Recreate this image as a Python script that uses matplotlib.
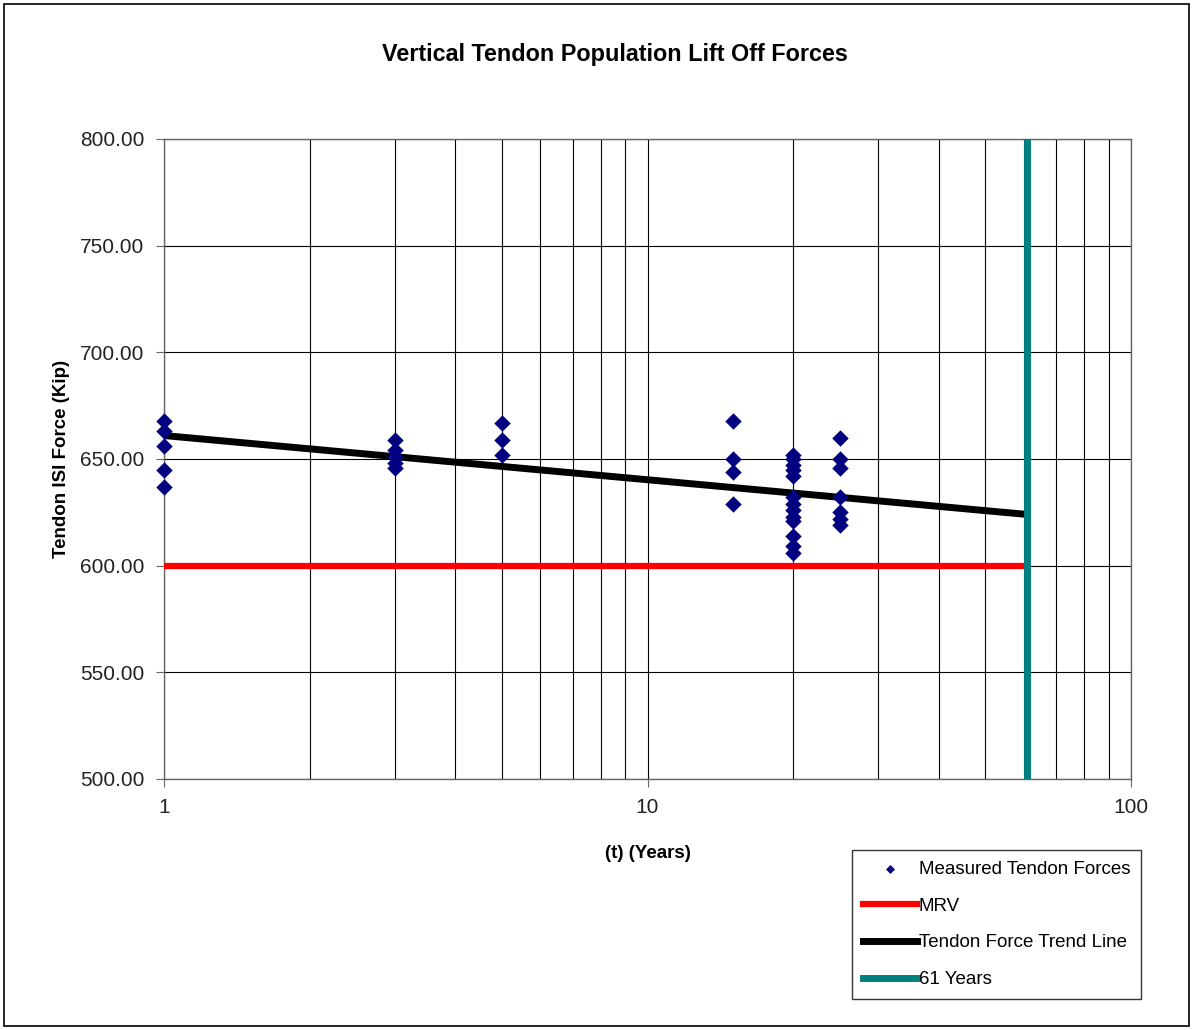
import matplotlib
matplotlib.use("Agg")
import matplotlib.pyplot as plt
from matplotlib.ticker import FixedLocator, NullFormatter, FixedFormatter
from matplotlib.patches import Rectangle

plt.rcParams['font.family'] = ['Liberation Sans', 'DejaVu Sans']

# Measured tendon forces (years, kip)
years_1 = [1, 1, 1, 1, 1]
force_1 = [668, 663, 656, 645, 637]
years_3 = [3, 3, 3, 3, 3]
force_3 = [659, 654, 651, 648, 646]
years_5 = [5, 5, 5]
force_5 = [667, 659, 652]
years_15 = [15, 15, 15, 15]
force_15 = [668, 650, 644, 629]
years_20 = [20] * 13
force_20 = [652, 650, 647, 645, 642, 632, 629, 626, 623, 621, 614, 609, 606]
years_25 = [25] * 7
force_25 = [660, 650, 646, 632, 625, 622, 619]

meas_t = years_1 + years_3 + years_5 + years_15 + years_20 + years_25
meas_f = force_1 + force_3 + force_5 + force_15 + force_20 + force_25

mrv_t = [1, 61]
mrv_f = [600, 600]
trend_t = [1, 61]
trend_f = [661, 624]
life_t = [61, 61]
life_f = [500, 800]

W, H = 1193, 1030
fig = plt.figure(figsize=(W / 100, H / 100), dpi=100)
fig.patches.append(Rectangle((4 / W, 4 / H), (W - 8) / W, (H - 8) / H,
                             transform=fig.transFigure, fill=False,
                             edgecolor='black', linewidth=1.2))

ax = fig.add_axes([164 / W, 1 - 779 / H, (1131 - 164) / W, (779 - 139) / H])
ax.set_xscale('log')
ax.set_xlim(1, 100)
ax.set_ylim(500, 800)

minor = [m * d for d in (1, 10) for m in range(2, 10)]
ax.xaxis.set_major_locator(FixedLocator([1, 10, 100]))
ax.xaxis.set_major_formatter(FixedFormatter(['1', '10', '100']))
ax.xaxis.set_minor_locator(FixedLocator(minor))
ax.xaxis.set_minor_formatter(NullFormatter())
ax.set_yticks([500, 550, 600, 650, 700, 750, 800])
ax.set_yticklabels([f"{v:.2f}" for v in [500, 550, 600, 650, 700, 750, 800]])
ax.grid(True, which='both', axis='x', color='black', linewidth=0.8)
ax.grid(True, which='major', axis='y', color='black', linewidth=0.8)
ax.tick_params(axis='both', which='major', labelsize=15, length=6,
               color='#666666', labelcolor='#222222')
ax.tick_params(axis='y', which='major', pad=8)
ax.tick_params(axis='x', which='minor', length=0)
ax.tick_params(axis='x', which='major', pad=8)
for s in ax.spines.values():
    s.set_color('#666666')
    s.set_linewidth(1)

ax.plot(mrv_t, mrv_f, color='#ff0000', linewidth=4.5, label='MRV', zorder=3)
ax.plot(trend_t, trend_f, color='black', linewidth=5, label='Tendon Force Trend Line', zorder=3)
ax.plot(life_t, life_f, color='#008080', linewidth=5, label='61 Years', zorder=3)
ax.scatter(meas_t, meas_f, marker='D', s=70, color='#000080', label='Measured Tendon Forces', zorder=4,
           linewidths=0, clip_on=False)

fig.text(615 / W, 1 - 55 / H, 'Vertical Tendon Population Lift Off Forces',
         fontsize=16.8, fontweight='bold', ha='center', va='center')
fig.text(648 / W, 1 - 853 / H, '(t) (Years)', fontsize=13.5, fontweight='bold',
         ha='center', va='center')
fig.text(61 / W, 1 - 459 / H, 'Tendon ISI Force (Kip)', fontsize=13.5, fontweight='bold',
         ha='center', va='center', rotation=90)

handles, labels = ax.get_legend_handles_labels()
order = [3, 0, 1, 2]
leg = fig.legend([handles[i] for i in order], [labels[i] for i in order],
                 loc='upper left', bbox_to_anchor=(843 / W, 1 - 841 / H),
                 fontsize=13.5, frameon=True, fancybox=False, edgecolor='black',
                 handlelength=2.9, handletextpad=0.1, labelspacing=1.05, borderpad=0.55,
                 markerscale=0.55)
leg.get_frame().set_linewidth(1)

fig.savefig('out.png', dpi=100)
